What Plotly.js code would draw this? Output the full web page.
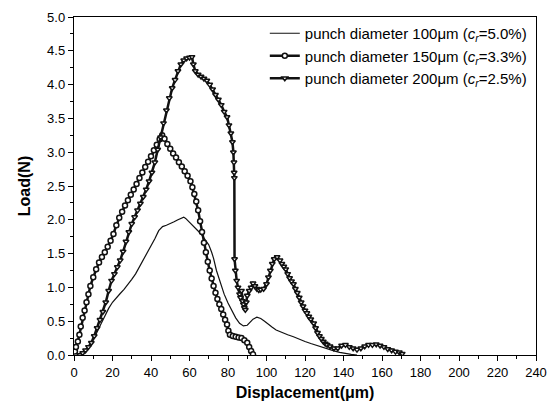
<!DOCTYPE html>
<html>
<head>
<meta charset="utf-8">
<script src="https://cdn.plot.ly/plotly-3.0.1.min.js"></script>
<style>html,body{margin:0;padding:0;background:#fff;}#chart{width:547px;height:411px;}</style>
</head>
<body>
<div id="chart"></div>
<script>
// punch diameter 100 µm (thin line)
const d100x = [4,6,8,10,12,14,16,18,20,22,24,26,28,30,32,34,36,38,40,42,44,46,48,50,52,54,56,57,58,60,62,64,66,68,70,71.5,72.5,74,76,78,80,82,84,86,88,90,91.5,93,95,97,99,101,103,105,108,111,114,117,120,123,126,129,132,135,138,141,144,147];
const d100y = [0,0.05,0.12,0.22,0.34,0.46,0.58,0.69,0.78,0.85,0.91,0.97,1.04,1.12,1.2,1.3,1.4,1.5,1.6,1.72,1.84,1.9,1.92,1.94,1.97,2.0,2.03,2.04,2.02,1.96,1.9,1.85,1.79,1.71,1.63,1.52,1.43,1.25,1.07,0.9,0.77,0.66,0.55,0.47,0.43,0.44,0.48,0.53,0.56,0.54,0.5,0.45,0.41,0.37,0.33,0.3,0.27,0.23,0.2,0.17,0.14,0.12,0.09,0.06,0.04,0.02,0.01,0];

// punch diameter 150 µm (circle markers)
const d150x = [0.5,1,2,2.8,3.5,4.5,5.5,6.5,7.5,8.5,10,11.5,13,14.5,16,17.5,19,20.5,22,23.5,25,26.5,28,29.5,31,32.5,34,35.5,37,38.5,40,41.5,43,44.5,45.8,47,48.5,50,51.5,53,54.5,56,57.5,59,60.5,61.5,62.5,63.5,64.5,65.5,66.5,67.5,68.5,69.5,70.5,71.5,72.5,73.5,74.5,75.5,76.5,77.5,78.5,79.5,80.2,81,82.5,84,85.5,87,88.5,90,91,92,93];
const d150y = [0.05,0.12,0.2,0.3,0.42,0.55,0.66,0.78,0.9,1.02,1.15,1.27,1.37,1.45,1.52,1.6,1.69,1.79,1.92,2.03,2.12,2.21,2.29,2.37,2.45,2.53,2.62,2.7,2.78,2.86,2.94,3.03,3.11,3.19,3.25,3.2,3.12,3.05,2.98,2.92,2.85,2.79,2.72,2.65,2.57,2.48,2.38,2.27,2.14,1.98,1.82,1.66,1.52,1.38,1.25,1.13,1.02,0.92,0.83,0.75,0.68,0.6,0.52,0.45,0.36,0.3,0.28,0.27,0.26,0.25,0.22,0.18,0.12,0.06,0.01];

// punch diameter 200 µm (triangle markers)
const d200x = [3,4.5,6,7.5,9,10.5,12,13.5,15,16.5,18,19.5,21,22.5,24,25.5,27,28.5,30,31.5,33,34.5,36,37.5,39,40.5,42,43.5,45,46.5,48,49.5,51,52.5,54,55.5,57,58.5,60,61.3,62,63,64.5,66,67.5,69,70.5,72,73.5,75,76.5,78,79.5,80.5,81.5,82.3,82.8,83.1,83.2,83.3,83.4,83.8,84.5,85.2,86,86.5,87,87.5,88,88.5,89,89.5,90,91,92,93,94,95,96,97,98.5,100,101,102,103,104,105.5,107,108,109,110,111,112,113,114,115,116,117,118,119,120,121,122,123,124.5,125.5,126.5,127.5,128.5,129.5,130.5,131.5,133,135,137,139,141,143,145,147,149,151,153,155,157,159,161,163,165,167,169,170.5];
const d200y = [0,0.03,0.07,0.12,0.18,0.28,0.4,0.52,0.64,0.78,0.95,1.1,1.2,1.3,1.4,1.53,1.68,1.82,1.94,2.04,2.14,2.24,2.34,2.45,2.57,2.7,2.85,3.04,3.22,3.43,3.62,3.8,3.95,4.07,4.2,4.3,4.36,4.39,4.4,4.41,4.3,4.2,4.15,4.12,4.09,4.06,4.0,3.93,3.85,3.78,3.7,3.6,3.52,3.4,3.28,3.15,3.0,2.85,2.7,2.62,1.42,1.25,1.1,1.0,0.9,0.85,0.95,0.8,0.75,0.7,0.67,0.78,0.88,0.95,1.0,1.06,1.02,0.98,0.96,0.97,0.98,1.05,1.15,1.25,1.35,1.42,1.45,1.4,1.35,1.31,1.27,1.2,1.14,1.09,1.05,0.98,0.92,0.85,0.78,0.72,0.66,0.62,0.57,0.53,0.47,0.4,0.33,0.28,0.24,0.2,0.17,0.15,0.13,0.1,0.1,0.14,0.15,0.12,0.1,0.08,0.1,0.13,0.15,0.15,0.16,0.14,0.12,0.09,0.07,0.05,0.04,0.02];

const legendNames = [
  'punch diameter 100\u03bcm (<i>c</i><sub><i>r</i></sub>=5.0%)',
  'punch diameter 150\u03bcm (<i>c</i><sub><i>r</i></sub>=3.3%)',
  'punch diameter 200\u03bcm (<i>c</i><sub><i>r</i></sub>=2.5%)'
];

const font = 'Liberation Sans, Arial, Helvetica, sans-serif';

const traces = [
  {x: d100x, y: d100y, name: legendNames[0], mode: 'lines', type: 'scatter',
   line: {color: '#111', width: 1.2}},
  {x: d150x, y: d150y, name: legendNames[1], mode: 'lines+markers', type: 'scatter',
   line: {color: '#111', width: 2.5},
   marker: {symbol: 'circle', size: 5, color: '#fff', line: {color: '#111', width: 1.5}}},
  {x: d200x, y: d200y, name: legendNames[2], mode: 'lines+markers', type: 'scatter',
   line: {color: '#111', width: 2.5},
   marker: {symbol: 'triangle-down', size: 5, color: '#fff', line: {color: '#111', width: 1.5}}}
];

const axisCommon = {
  showline: true, linecolor: '#000', linewidth: 1.2, mirror: true,
  ticks: 'outside', ticklen: 5, tickwidth: 1, tickcolor: '#000',
  showgrid: false, zeroline: false,
  tickfont: {family: font, size: 13, color: '#000'}
};

const layout = {
  width: 547, height: 411,
  margin: {l: 74, r: 11, t: 17, b: 56},
  paper_bgcolor: '#fff', plot_bgcolor: '#fff',
  showlegend: true,
  legend: {x: 0.413, y: 1.0, xanchor: 'left', yanchor: 'top',
           bgcolor: 'rgba(0,0,0,0)', borderwidth: 0,
           font: {family: font, size: 15, color: '#000'},
           tracegroupgap: 0, itemwidth: 30},
  xaxis: Object.assign({}, axisCommon, {
    range: [0, 240], dtick: 20, tick0: 0,
    minor: {dtick: 10, ticks: 'outside', ticklen: 3, tickcolor: '#000'},
    title: {text: '<b>Displacement(\u03bcm)</b>', font: {family: font, size: 16, color: '#000'}, standoff: 8}
  }),
  yaxis: Object.assign({}, axisCommon, {
    range: [0, 5], dtick: 0.5, tick0: 0, tickformat: '.1f',
    minor: {dtick: 0.25, ticks: 'outside', ticklen: 3, tickcolor: '#000'},
    title: {text: '<b>Load(N)</b>', font: {family: font, size: 16, color: '#000'}, standoff: 12}
  })
};

Plotly.newPlot('chart', traces, layout, {staticPlot: true, displayModeBar: false});
</script>
</body>
</html>
